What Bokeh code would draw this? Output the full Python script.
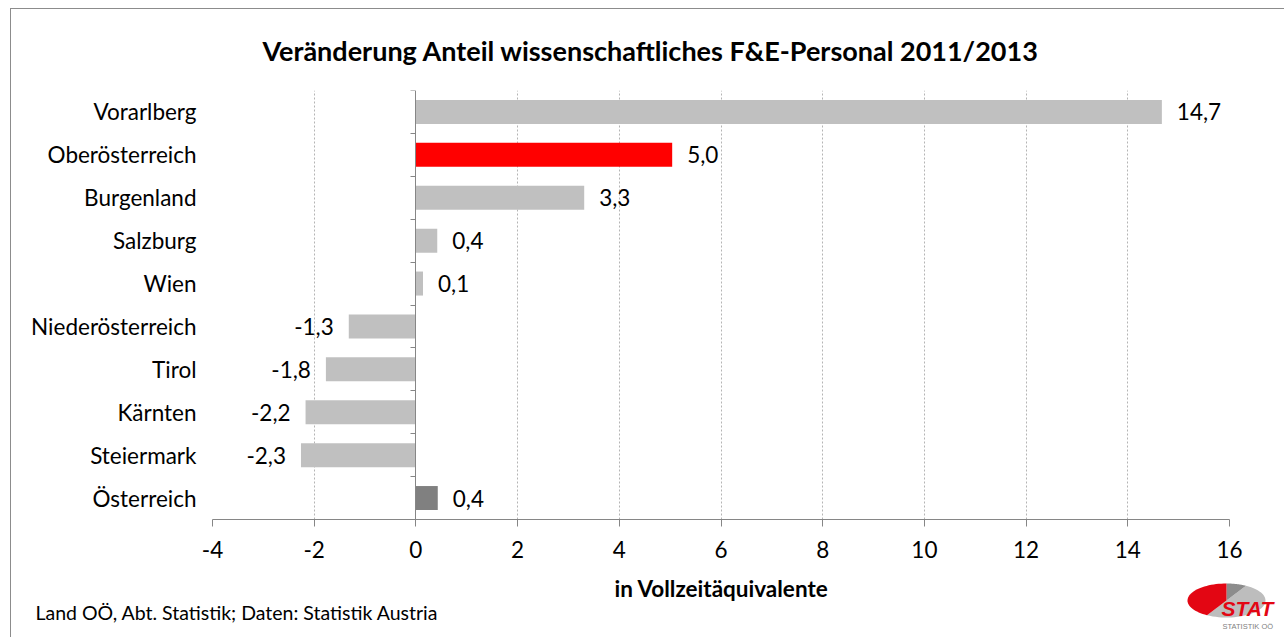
import numpy as np
from bokeh.plotting import figure
from bokeh.layouts import column
from bokeh.models import (ColumnDataSource, FixedTicker, LinearAxis, Range1d,
                          Label, Title)
from bokeh.core.properties import value
from bokeh.embed import file_html
from bokeh.resources import INLINE

# ---- data ----
regions = ["Vorarlberg", "Oberösterreich", "Burgenland", "Salzburg", "Wien",
           "Niederösterreich", "Tirol", "Kärnten", "Steiermark", "Österreich"]
values = [14.67, 5.04, 3.31, 0.42, 0.14, -1.32, -1.77, -2.17, -2.26, 0.43]
colors = ["#C0C0C0", "#FF0000", "#C0C0C0", "#C0C0C0", "#C0C0C0",
          "#C0C0C0", "#C0C0C0", "#C0C0C0", "#C0C0C0", "#808080"]
x_ticks = [-4, -2, 0, 2, 4, 6, 8, 10, 12, 14, 16]
title_text = "Veränderung Anteil wissenschaftliches F&E-Personal 2011/2013"
x_title = "in Vollzeitäquivalente"
source_text = "Land OÖ, Abt. Statistik; Daten: Statistik Austria"

FONT = "Lato"
FS = "22.5px"
n = len(regions)
ypos = [n - 0.5 - i for i in range(n)]
labels = [f"{v:.1f}".replace(".", ",") for v in values]

src = ColumnDataSource(dict(
    y=ypos, v=values, color=colors, label=labels,
    pos_label=[l if v >= 0 else "" for l, v in zip(labels, values)],
    neg_label=[l if v < 0 else "" for l, v in zip(labels, values)],
))

H1, H2 = 575, 62

# ---------------- main chart ----------------
p = figure(width=1284, height=H1, output_backend="svg", toolbar_location=None,
           x_range=Range1d(-4, 16), y_range=Range1d(0, n),
           min_border_left=212, min_border_right=55, min_border_top=90,
           min_border_bottom=H1 - 519, y_axis_location=None)
p.outline_line_color = None
p.background_fill_color = "white"
p.border_fill_color = None

p.title = Title(text=title_text, align="left", offset=50, standoff=47,
                text_font=FONT, text_font_style="bold", text_font_size="27px",
                text_color="black")

# grid
p.xgrid.ticker = FixedTicker(ticks=[t for t in x_ticks if t != 0])
p.xgrid.grid_line_color = "#B4B4B4"
p.xgrid.grid_line_dash = "2 2"
p.xgrid.grid_line_width = 1
p.ygrid.grid_line_color = None

# bars
p.hbar(y="y", right="v", left=0, height=0.56, fill_color="color",
       line_color=None, source=src)

# value labels
p.text(x="v", y="y", text="pos_label", source=src, x_offset=15,
       text_align="left", text_baseline="middle",
       text_font=value(FONT), text_font_size=FS, text_color="black")
p.text(x="v", y="y", text="neg_label", source=src, x_offset=-15,
       text_align="right", text_baseline="middle",
       text_font=value(FONT), text_font_size=FS, text_color="black")

# x axis
xa = p.xaxis[0]
xa.ticker = FixedTicker(ticks=x_ticks)
xa.major_label_overrides = {t: str(t) for t in x_ticks}
xa.axis_line_color = "#868686"
xa.major_tick_line_color = "#868686"
xa.major_tick_out = 7
xa.major_tick_in = 0
xa.minor_tick_line_color = None
xa.major_label_text_font = FONT
xa.major_label_text_font_size = FS
xa.major_label_text_color = "black"
xa.major_label_standoff = 14

# category labels on the left
ya = LinearAxis(ticker=FixedTicker(ticks=ypos),
                major_label_overrides={y: r for y, r in zip(ypos, regions)})
ya.axis_line_color = None
ya.major_tick_line_color = None
ya.minor_tick_line_color = None
ya.major_label_text_font = FONT
ya.major_label_text_font_size = FS
ya.major_label_text_color = "black"
ya.major_label_standoff = 10
p.add_layout(ya, "left")

# axis line at x = 0 with category boundary ticks
y0 = LinearAxis(ticker=FixedTicker(ticks=list(range(n + 1))), fixed_location=0)
y0.axis_line_color = "#868686"
y0.major_tick_line_color = "#868686"
y0.major_tick_out = 5
y0.major_tick_in = 0
y0.minor_tick_line_color = None
y0.major_label_text_font_size = "0px"
y0.major_label_text_color = None
p.add_layout(y0, "left")

# ---------------- footer strip: axis title, source, logo ----------------
f = figure(frame_width=1284, frame_height=H2, output_backend="svg",
           toolbar_location=None,
           x_range=Range1d(0, 1284), y_range=Range1d(H2, 0),
           x_axis_location=None, y_axis_location=None,
           min_border_left=0, min_border_right=0, min_border_top=0,
           min_border_bottom=0)
if "frame_align" in f.properties():
    f.frame_align = False
    p.frame_align = False
f.outline_line_color = None
f.background_fill_color = None
f.border_fill_color = None
f.grid.visible = False

Y0 = 519 - H1  # offset of footer relative to page rows
f.add_layout(Label(x=721, y=588 - H1, text=x_title, text_align="center",
                   text_baseline="middle", text_font=FONT,
                   text_font_style="bold", text_font_size=FS,
                   text_color="black"))
f.add_layout(Label(x=35, y=612 - H1, text=source_text, text_align="left",
                   text_baseline="middle", text_font=FONT,
                   text_font_size="19.5px", text_color="black"))

# logo (decoration): elliptic pie + lettering
cx, cy, rx, ry = 1226, 600 - H1, 39, 17
lx, ly, lc = [], [], []
for (a0, a1), col in [((240, 420), "#BDBDBD"), ((60, 90), "#8C8C8C"),
                      ((90, 240), "#E30613")]:
    t = np.radians(np.linspace(a0, a1, 40))
    lx.append([cx] + list(cx + rx * np.cos(t)))
    ly.append([cy] + list(cy - ry * np.sin(t)))
    lc.append(col)
f.patches(xs=lx, ys=ly, fill_color=lc, line_color=None)
f.add_layout(Label(x=1221, y=608 - H1, text="STAT", text_align="left",
                   text_baseline="middle", text_font="Liberation Sans",
                   text_font_style="bold italic", text_font_size="21px",
                   text_color="#E30613"))
f.add_layout(Label(x=1222, y=626 - H1, text="STATISTIK OÖ", text_align="left",
                   text_baseline="middle", text_font="Liberation Sans",
                   text_font_size="7.5px", text_color="#7F7F7F"))

layout = column(p, f, spacing=0,
                styles={"box-shadow": "inset 10px 8px 0 0 white, inset 11px 9px 0 0 #8C8C8C"})

open("out.html", "w").write(file_html(layout, INLINE))
